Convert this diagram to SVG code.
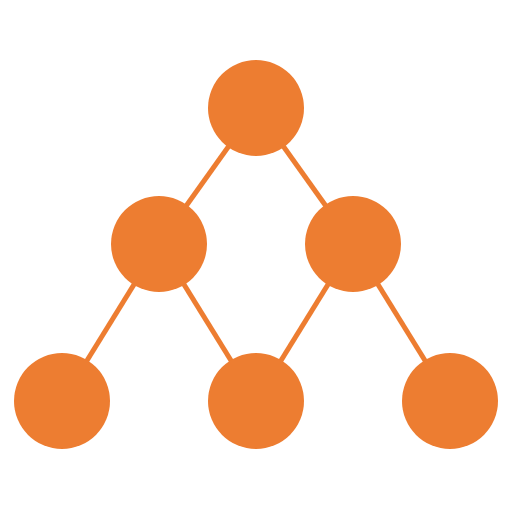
<svg xmlns="http://www.w3.org/2000/svg" width="512" height="512" viewBox="0 0 512 512">
<style>
.n{fill:#ED7D31;}
.e{stroke:#ED7D31;stroke-width:5;fill:none;}
</style>
<rect width="512" height="512" fill="#fff"/>
<g id="edges">
<line class="e" x1="256" y1="108" x2="159" y2="244"/>
<line class="e" x1="256" y1="108" x2="353" y2="244"/>
<line class="e" x1="159" y1="244" x2="62" y2="401"/>
<line class="e" x1="159" y1="244" x2="256" y2="401"/>
<line class="e" x1="353" y1="244" x2="256" y2="401"/>
<line class="e" x1="353" y1="244" x2="450" y2="401"/>
</g>
<g id="n1"><circle class="n" cx="256" cy="108" r="48"/></g>
<g id="n2"><circle class="n" cx="159" cy="244" r="48"/></g>
<g id="n3"><circle class="n" cx="353" cy="244" r="48"/></g>
<g id="n4"><circle class="n" cx="62" cy="401" r="48"/></g>
<g id="n5"><circle class="n" cx="256" cy="401" r="48"/></g>
<g id="n6"><circle class="n" cx="450" cy="401" r="48"/></g>
</svg>
